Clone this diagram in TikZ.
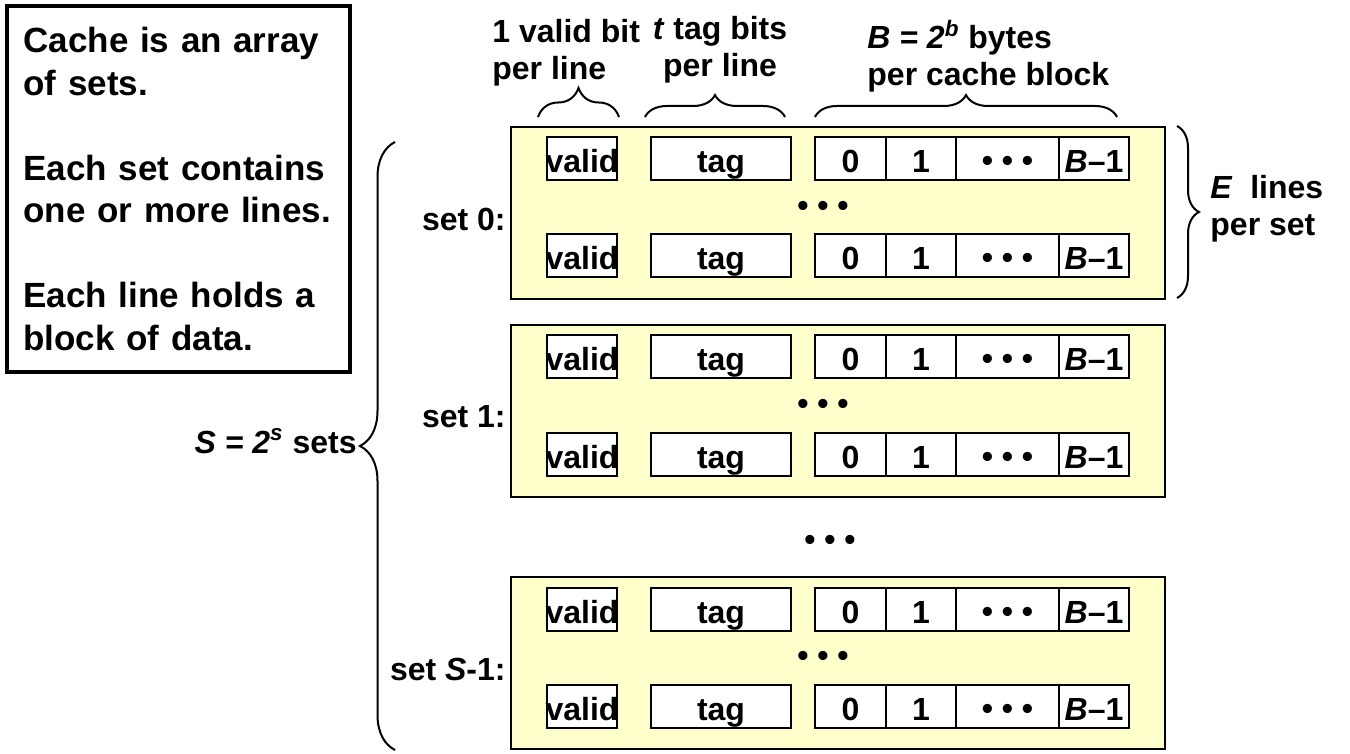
\documentclass[tikz,border=0pt]{standalone}
\usepackage{fontspec}
\setmainfont{Liberation Sans}
\usetikzlibrary{positioning,decorations.pathreplacing}
\definecolor{setyellow}{RGB}{255,255,204}
\tikzstyle{setbox}=[draw,fill=setyellow,line width=1.2pt,minimum width=327pt,minimum height=86pt,inner sep=0pt]
\tikzstyle{cell}=[draw,fill=white,line width=1pt,outer sep=0pt,inner sep=0pt,minimum height=21.5pt,text height=14pt,text depth=0pt]
\tikzstyle{dotrow}=[inner sep=0pt,text height=10.8pt,text depth=0pt]
\tikzstyle{brc}=[decorate,decoration={brace,amplitude=11pt},line width=1pt]
\tikzstyle{lbl}=[inner sep=0pt,align=left]

\begin{document}
\begin{tikzpicture}[x=0.5pt,y=-0.5pt,font=\fontsize{16}{18.5}\selectfont\bfseries]
\useasboundingbox (0,0) rectangle (1350,754);
% note on the left
\node[draw,line width=1.75pt,minimum width=171.5pt,minimum height=183pt,text width=155pt,align=left,
  font=\fontsize{17.5}{21.25}\selectfont\bfseries] (note) at (178.5,189)
  {Cache is an array\\of sets.\\[21.25pt]Each set contains\\one or more lines.\\[21.25pt]Each line holds a\\block of data.};
% the sets, two lines each
\foreach \ty/\n/\lab in {127/0/set 0:,325/1/set 1:,577/2/set \textit{S}-1:}{
  \node[setbox] (set\n) at (838,\ty+86) {};
  \node[anchor=east,inner sep=0pt] (lab\n) at (506,\ty+92) {\lab};
  \node[dotrow] (dots\n) at (823,\ty+79) {• • •};
  \foreach \rw/\dy in {a/32,b/129}{
    \node[cell,minimum width=35pt] (v\n\rw) at (582,\ty+\dy) {\makebox[33pt]{valid}};
    \node[cell,minimum width=70pt] (t\n\rw) at (721,\ty+\dy) {tag};
    \node[cell,minimum width=35.5pt] (d\n\rw) at (850.5,\ty+\dy) {0};
    \node[cell,minimum width=35pt,right=0pt of d\n\rw] (e\n\rw) {1};
    \node[cell,minimum width=51.5pt,text height=13pt,right=0pt of e\n\rw] (f\n\rw) {• • •};
    \node[cell,minimum width=35pt,right=0pt of f\n\rw] (g\n\rw) {\textit{B}–1};
  }
}
\node[dotrow] (middots) at (830,540) {• • •};
% labels
\node[lbl,anchor=base west] (vlbl) at (492,80) {1 valid bit\\per line};
\node[lbl,anchor=base,align=center] (tlbl) at (720,77) {\textit{t} tag bits\\per line};
\node[lbl,anchor=base west] (blbl) at (867,86) {\textit{B = 2\textsuperscript{b}} bytes\\per cache block};
\node[lbl,anchor=base west] (elbl) at (1210,236) {\textit{E}\ \ lines\\per set};
\node[anchor=east,inner sep=0pt] (slbl) at (357,441) {\textit{S = 2\textsuperscript{s}} sets};
% braces
\coordinate (vb1) at (538,117); \coordinate (vb2) at (619,117);
\coordinate (tb1) at (645,117); \coordinate (tb2) at (785,117);
\coordinate (bb1) at (815,117); \coordinate (bb2) at (1117,117);
\coordinate (eb1) at (1177,126); \coordinate (eb2) at (1177,298);
\coordinate (sb1) at (395,750); \coordinate (sb2) at (395,142);
\draw[brc,decoration={amplitude=14.5pt}] (vb1) -- (vb2);
\draw[brc] (tb1) -- (tb2);
\draw[brc] (bb1) -- (bb2);
\draw[brc] (eb1) -- (eb2);
\draw[brc,decoration={amplitude=17.5pt}] (sb1) -- (sb2);
\end{tikzpicture}
\end{document}
